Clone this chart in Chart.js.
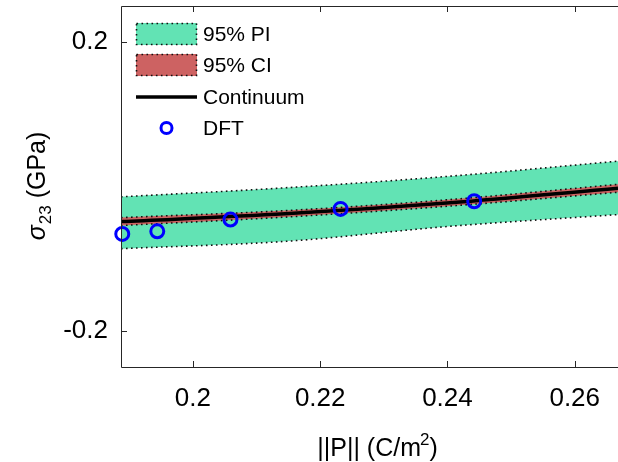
<!DOCTYPE html>
<html><head><meta charset="utf-8">
<script src="https://cdn.jsdelivr.net/npm/chart.js@4.4.1/dist/chart.umd.min.js"></script>
<style>html,body{margin:0;padding:0;background:#fff;}#wrap{width:618px;height:462px;}</style>
</head><body><div id="wrap"><canvas id="c" width="618" height="462" style="width:618px;height:462px"></canvas></div>
<script>
// ---- data ----
const xTicks = [0.2, 0.22, 0.24, 0.26];
const yTicks = [-0.2, 0.2];
const bandX = [0.1887, 0.2145, 0.2404, 0.2668];
const piUpper = [-0.0143, -0.0018, 0.0143, 0.0351];
const piLower = [-0.0861, -0.0760, -0.0551, -0.0389];
const ciUpper = [-0.0431, -0.0334, -0.0181, 0.0030];
const ciLower = [-0.0541, -0.0424, -0.0271, -0.0080];
const continuum = [-0.0486, -0.0379, -0.0226, -0.0025];
const dftX = [0.1889, 0.1944, 0.2059, 0.2232, 0.2442];
const dftY = [-0.0657, -0.0621, -0.0458, -0.0310, -0.0204];
const legendLabels = ['95% PI', '95% CI', 'Continuum', 'DFT'];

const FONT = '"Liberation Sans", Arial, Helvetica, sans-serif';
const PI_COLOR = '#62E3B4';
const CI_COLOR = '#CD6262';
const DFT_COLOR = '#0000FF';
const AXIS_COLOR = '#262626';

const pts = (xs, ys) => xs.map((x, i) => ({x: x, y: ys[i]}));
const dotted = {borderColor: '#111', borderWidth: 1.6, borderDash: [1.6, 3.4], pointRadius: 0, cubicInterpolationMode: 'monotone'};

const framePlugin = {
  id: 'frame',
  afterDraw(chart) {
    const {ctx, chartArea: a, scales} = chart;
    ctx.save();
    ctx.strokeStyle = AXIS_COLOR;
    ctx.lineWidth = 1;
    ctx.setLineDash([]);
    ctx.beginPath();
    ctx.moveTo(a.right + 1, a.top + 0.5); ctx.lineTo(a.left + 0.5, a.top + 0.5);
    ctx.lineTo(a.left + 0.5, a.bottom + 0.5); ctx.lineTo(a.right + 1, a.bottom + 0.5);
    const tl = 6;
    xTicks.forEach(v => {
      const px = Math.round(scales.x.getPixelForValue(v)) + 0.5;
      ctx.moveTo(px, a.bottom); ctx.lineTo(px, a.bottom - tl);
      ctx.moveTo(px, a.top); ctx.lineTo(px, a.top + tl);
    });
    yTicks.forEach(v => {
      const py = Math.round(scales.y.getPixelForValue(v)) + 0.5;
      ctx.moveTo(a.left, py); ctx.lineTo(a.left + tl, py);
    });
    ctx.stroke();

    ctx.fillStyle = '#000';
    const main = '25px ' + FONT, sup = '17px ' + FONT;
    ctx.font = main;
    const t1 = '||P|| (C/m', t3 = ')';
    const w1 = ctx.measureText(t1).width, w3 = ctx.measureText(t3).width;
    ctx.font = sup;
    const w2 = ctx.measureText('2').width;
    const cx = 378;
    let x0 = cx - (w1 + w2 + w3) / 2;
    const by = 456;
    ctx.textBaseline = 'alphabetic';
    ctx.textAlign = 'left';
    ctx.font = main; ctx.fillText(t1, x0, by);
    ctx.font = sup; ctx.fillText('2', x0 + w1 - 1, by - 11);
    ctx.font = main; ctx.fillText(t3, x0 + w1 + w2 - 1, by);

    ctx.save();
    ctx.translate(45, (a.top + a.bottom) / 2);
    ctx.rotate(-Math.PI / 2);
    const sig = 'σ', sub = '23', rest = ' (GPa)';
    ctx.font = 'italic 25px ' + FONT; const ws = ctx.measureText(sig).width;
    ctx.font = '17px ' + FONT; const wsub = ctx.measureText(sub).width;
    ctx.font = '25px ' + FONT; const wr = ctx.measureText(rest).width;
    let lx = -(ws + wsub + wr) / 2;
    ctx.font = 'italic 25px ' + FONT; ctx.fillText(sig, lx, 0);
    ctx.font = '17px ' + FONT; ctx.fillText(sub, lx + ws + 1, 6);
    ctx.font = '25px ' + FONT; ctx.fillText(rest, lx + ws + wsub + 1, 0);
    ctx.restore();

    const lx0 = 136, bw = 61, tx = 203;
    ctx.font = '21px ' + FONT;
    ctx.textBaseline = 'middle';
    const boxes = [[PI_COLOR, 23, 35], [CI_COLOR, 54, 66]];
    boxes.forEach(([col, top, ty], i) => {
      ctx.fillStyle = col;
      ctx.fillRect(lx0, top, bw, 22);
      ctx.strokeStyle = '#111'; ctx.lineWidth = 1.6; ctx.setLineDash([1.6, 3.4]);
      ctx.strokeRect(lx0 + 0.5, top + 0.5, bw - 1, 21);
      ctx.setLineDash([]);
      ctx.fillStyle = '#000';
      ctx.fillText(legendLabels[i], tx, ty);
    });
    ctx.strokeStyle = '#000'; ctx.lineWidth = 3.5;
    ctx.beginPath(); ctx.moveTo(lx0, 97); ctx.lineTo(lx0 + bw, 97); ctx.stroke();
    ctx.fillText(legendLabels[2], tx, 98);
    ctx.strokeStyle = DFT_COLOR; ctx.lineWidth = 3;
    ctx.beginPath(); ctx.arc(166.5, 128, 5.5, 0, Math.PI * 2); ctx.stroke();
    ctx.fillStyle = '#000';
    ctx.fillText(legendLabels[3], tx, 129);
    ctx.restore();
  }
};

new Chart(document.getElementById('c'), {
  type: 'line',
  data: {
    datasets: [
      Object.assign({label: legendLabels[0], data: pts(bandX, piUpper), fill: '+1', backgroundColor: PI_COLOR, order: 6}, dotted),
      Object.assign({label: 'PI lower', data: pts(bandX, piLower), fill: false, order: 5}, dotted),
      Object.assign({label: legendLabels[1], data: pts(bandX, ciUpper), fill: '+1', backgroundColor: CI_COLOR, order: 4}, dotted),
      Object.assign({label: 'CI lower', data: pts(bandX, ciLower), fill: false, order: 3}, dotted),
      {label: legendLabels[2], data: pts(bandX, continuum), borderColor: '#000', borderWidth: 3.5, pointRadius: 0, fill: false, cubicInterpolationMode: 'monotone', order: 2},
      {label: legendLabels[3], data: pts(dftX, dftY), showLine: false, pointRadius: 6.5, pointBorderWidth: 3, pointBorderColor: DFT_COLOR, pointBackgroundColor: 'rgba(0,0,0,0)', borderColor: DFT_COLOR, fill: false, clip: false, order: 1}
    ]
  },
  options: {
    responsive: false,
    animation: false,
    devicePixelRatio: 1,
    layout: {autoPadding: false, padding: {top: 6, left: 0, right: 0, bottom: 0}},
    plugins: {legend: {display: false}, tooltip: {enabled: false}},
    scales: {
      x: {
        type: 'linear', min: 0.1887, max: 0.2668,
        grid: {display: false}, border: {display: false},
        afterBuildTicks: s => { s.ticks = xTicks.map(v => ({value: v})); },
        afterFit: s => { s.height = 95; s.paddingLeft = 0; s.paddingRight = 0; s.paddingTop = 0; s.paddingBottom = 0; },
        ticks: {color: '#000', font: {size: 26, family: FONT}, padding: 8, maxRotation: 0, autoSkip: false, callback: v => String(v)}
      },
      y: {
        type: 'linear', min: -0.25, max: 0.25,
        grid: {display: false}, border: {display: false},
        afterBuildTicks: s => { s.ticks = yTicks.map(v => ({value: v})); },
        afterFit: s => { s.width = 121; s.paddingLeft = 0; s.paddingRight = 0; s.paddingTop = 0; s.paddingBottom = 0; },
        ticks: {color: '#000', font: {size: 26, family: FONT}, padding: 5, callback: v => String(v)}
      }
    }
  },
  plugins: [framePlugin]
});
</script></body></html>
